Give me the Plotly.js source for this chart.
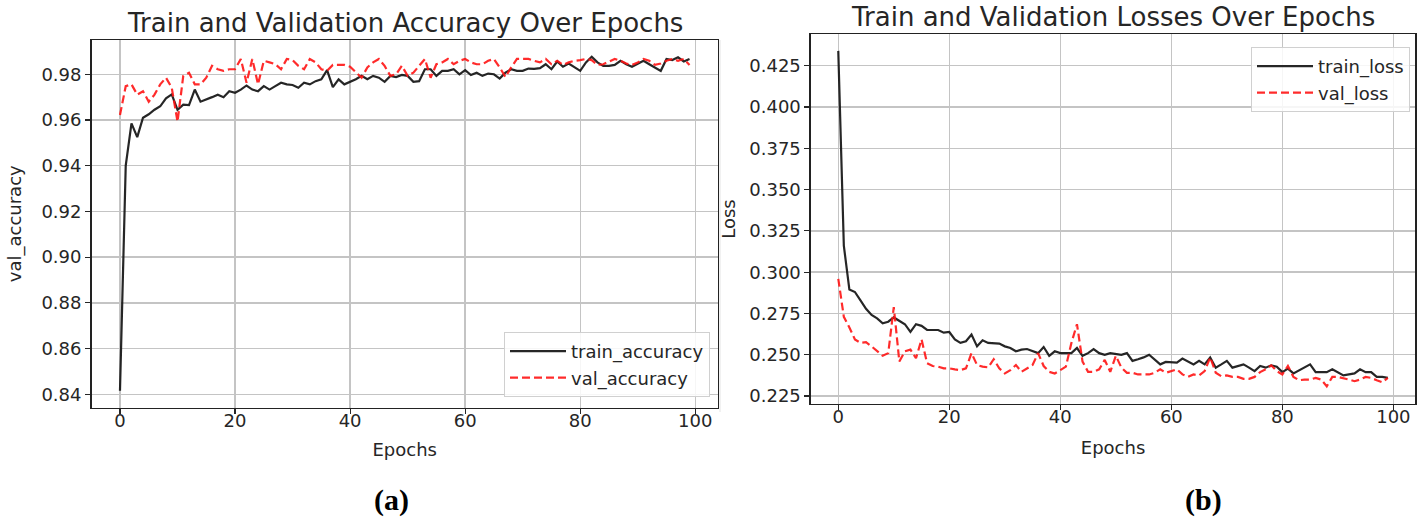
<!DOCTYPE html>
<html>
<head>
<meta charset="utf-8">
<script src="https://cdn.plot.ly/plotly-3.0.1.min.js"></script>
<style>
html,body{margin:0;padding:0;background:#fff;}
#chart{width:1427px;height:518px;}
</style>
</head>
<body>
<div id="chart"></div>
<script>
// ---- data ----
const epochs = Array.from({length: 100}, (_, i) => i);

const trainAccuracy = [
0.8415,0.9400,0.9585,0.9525,0.9610,0.9625,0.9645,0.9660,0.9695,0.9712,
0.9644,0.9667,0.9665,0.9733,0.9680,0.9689,0.9700,0.9711,0.9700,0.9726,
0.9719,0.9733,0.9751,0.9733,0.9726,0.9748,0.9733,0.9748,0.9763,0.9756,
0.9753,0.9741,0.9763,0.9756,0.9770,0.9778,0.9818,0.9744,0.9778,0.9756,
0.9766,0.9778,0.9793,0.9778,0.9793,0.9785,0.9767,0.9793,0.9788,0.9797,
0.9793,0.9767,0.9770,0.9822,0.9822,0.9793,0.9815,0.9815,0.9822,0.9800,
0.9818,0.9797,0.9807,0.9793,0.9803,0.9800,0.9781,0.9807,0.9822,0.9815,
0.9815,0.9825,0.9824,0.9827,0.9844,0.9822,0.9856,0.9833,0.9847,0.9830,
0.9815,0.9852,0.9877,0.9852,0.9837,0.9837,0.9841,0.9859,0.9844,0.9833,
0.9847,0.9859,0.9844,0.9830,0.9815,0.9867,0.9862,0.9874,0.9856,0.9867
];

const valAccuracy = [
0.9622,0.9748,0.9756,0.9711,0.9726,0.9680,0.9711,0.9756,0.9785,0.9741,
0.9593,0.9793,0.9807,0.9756,0.9756,0.9785,0.9837,0.9822,0.9815,0.9822,
0.9822,0.9867,0.9763,0.9867,0.9756,0.9859,0.9852,0.9844,0.9822,0.9867,
0.9862,0.9837,0.9822,0.9867,0.9852,0.9822,0.9815,0.9841,0.9841,0.9841,
0.9833,0.9807,0.9785,0.9830,0.9852,0.9867,0.9837,0.9793,0.9800,0.9837,
0.9793,0.9807,0.9837,0.9867,0.9785,0.9844,0.9852,0.9867,0.9844,0.9859,
0.9867,0.9852,0.9844,0.9844,0.9859,0.9867,0.9830,0.9788,0.9830,0.9867,
0.9867,0.9867,0.9859,0.9852,0.9867,0.9844,0.9859,0.9841,0.9852,0.9859,
0.9862,0.9867,0.9862,0.9841,0.9844,0.9856,0.9867,0.9859,0.9847,0.9841,
0.9852,0.9867,0.9859,0.9841,0.9847,0.9859,0.9867,0.9859,0.9867,0.9841
];

const trainLoss = [
0.4340,0.3160,0.2895,0.2880,0.2830,0.2778,0.2741,0.2720,0.2691,0.2700,
0.2726,0.2706,0.2685,0.2638,0.2685,0.2675,0.2650,0.2650,0.2650,0.2634,
0.2638,0.2593,0.2572,0.2582,0.2623,0.2551,0.2588,0.2572,0.2572,0.2568,
0.2551,0.2541,0.2521,0.2531,0.2535,0.2521,0.2510,0.2547,0.2494,0.2521,
0.2510,0.2510,0.2510,0.2541,0.2494,0.2510,0.2535,0.2510,0.2500,0.2510,
0.2505,0.2500,0.2510,0.2463,0.2473,0.2484,0.2500,0.2469,0.2442,0.2457,
0.2457,0.2453,0.2477,0.2457,0.2442,0.2463,0.2442,0.2484,0.2422,0.2442,
0.2463,0.2422,0.2432,0.2442,0.2422,0.2401,0.2432,0.2422,0.2436,0.2428,
0.2395,0.2416,0.2387,0.2407,0.2422,0.2442,0.2395,0.2395,0.2395,0.2412,
0.2391,0.2375,0.2381,0.2387,0.2412,0.2395,0.2395,0.2366,0.2366,0.2360
];

const valLoss = [
0.2960,0.2730,0.2665,0.2593,0.2572,0.2576,0.2551,0.2521,0.2494,0.2510,
0.2788,0.2459,0.2521,0.2531,0.2479,0.2593,0.2449,0.2432,0.2428,0.2418,
0.2418,0.2412,0.2407,0.2418,0.2510,0.2438,0.2428,0.2424,0.2473,0.2418,
0.2387,0.2407,0.2438,0.2397,0.2418,0.2438,0.2510,0.2432,0.2397,0.2387,
0.2407,0.2428,0.2572,0.2685,0.2459,0.2397,0.2397,0.2412,0.2469,0.2397,
0.2494,0.2422,0.2391,0.2391,0.2381,0.2381,0.2381,0.2391,0.2412,0.2391,
0.2401,0.2412,0.2381,0.2366,0.2381,0.2375,0.2401,0.2484,0.2391,0.2370,
0.2375,0.2366,0.2366,0.2354,0.2354,0.2366,0.2395,0.2412,0.2436,0.2401,
0.2381,0.2432,0.2366,0.2346,0.2350,0.2350,0.2360,0.2350,0.2309,0.2366,
0.2366,0.2360,0.2350,0.2340,0.2350,0.2366,0.2360,0.2346,0.2333,0.2360
];

const xTicks = [0, 20, 40, 60, 80, 100];
const accTicks = [0.84, 0.86, 0.88, 0.90, 0.92, 0.94, 0.96, 0.98];
const lossTicks = [0.225, 0.250, 0.275, 0.300, 0.325, 0.350, 0.375, 0.400, 0.425];

// ---- styling ----
const W = 1427, H = 518;
const FONT = "DejaVu Sans, Liberation Sans, sans-serif";
const TXT = "#262626";
const GRID = "rgb(196,196,196)";
const px = v => v / W;
const py = v => 1 - v / H;

function axisX(domain, anchor, standoff) {
  return {
    domain: domain, anchor: anchor, range: [-4.95, 103.95],
    tickvals: xTicks, ticktext: xTicks.map(String),
    showgrid: true, gridcolor: GRID, gridwidth: 1.4, zeroline: false,
    ticks: "outside", ticklen: 5, tickwidth: 1.2, tickcolor: TXT,
    ticklabelstandoff: -9,
    showline: true, mirror: true, linecolor: "#222", linewidth: 1.4,
    tickfont: {family: FONT, size: 18, color: TXT},
    title: {text: "Epochs", font: {family: FONT, size: 18, color: TXT}, standoff: standoff}
  };
}
function axisY(domain, anchor, range, ticks, fmt, title, standoff) {
  return {
    domain: domain, anchor: anchor, range: range,
    tickvals: ticks, ticktext: ticks.map(v => v.toFixed(fmt)),
    showgrid: true, gridcolor: GRID, gridwidth: 1.4, zeroline: false,
    ticks: "outside", ticklen: 5, tickwidth: 1.2, tickcolor: TXT,
    showline: true, mirror: true, linecolor: "#222", linewidth: 1.4,
    tickfont: {family: FONT, size: 18, color: TXT},
    title: {text: title, font: {family: FONT, size: 18, color: TXT}, standoff: standoff}
  };
}

const blackLine = {color: "rgba(20,20,20,0.92)", width: 2.2};
const redLine = {color: "rgba(255,20,20,0.9)", width: 2.2, dash: "8px,4px"};

const traces = [
  {x: epochs, y: trainAccuracy, type: "scatter", mode: "lines", name: "train_accuracy",
   line: blackLine, xaxis: "x", yaxis: "y", legend: "legend"},
  {x: epochs, y: valAccuracy, type: "scatter", mode: "lines", name: "val_accuracy",
   line: redLine, xaxis: "x", yaxis: "y", legend: "legend"},
  {x: epochs, y: trainLoss, type: "scatter", mode: "lines", name: "train_loss",
   line: blackLine, xaxis: "x2", yaxis: "y2", legend: "legend2"},
  {x: epochs, y: valLoss, type: "scatter", mode: "lines", name: "val_loss",
   line: redLine, xaxis: "x2", yaxis: "y2", legend: "legend2"}
];

const legendStyle = {
  font: {family: FONT, size: 18, color: TXT},
  bgcolor: "rgba(255,255,255,0.85)", bordercolor: "#d0d0d0", borderwidth: 1,
  itemwidth: 56, tracegroupgap: 0
};

const layout = {
  width: W, height: H,
  margin: {l: 0, r: 0, t: 0, b: 0, pad: 0},
  paper_bgcolor: "#fff", plot_bgcolor: "#fff",
  showlegend: true,
  xaxis: axisX([px(91.5), px(718)], "y", 14),
  yaxis: axisY([py(407.5), py(40)], "x", [0.8342, 0.9950], accTicks, 2, "val_accuracy", 15),
  xaxis2: axisX([px(810.8), px(1415.3)], "y2", 15),
  yaxis2: axisY([py(404), py(34)], "x2", [0.2202, 0.4442], lossTicks, 3, "Loss", 9),
  legend: Object.assign({x: px(710), y: py(397), xanchor: "right", yanchor: "bottom"}, legendStyle),
  legend2: Object.assign({x: px(1410), y: py(47), xanchor: "right", yanchor: "top"}, legendStyle),
  annotations: [
    {text: "Train and Validation Accuracy Over Epochs", xref: "paper", yref: "paper",
     x: px(404.5), y: py(23), xanchor: "center", yanchor: "middle", showarrow: false,
     font: {family: FONT, size: 26, color: TXT}},
    {text: "Train and Validation Losses Over Epochs", xref: "paper", yref: "paper",
     x: px(1113), y: py(17), xanchor: "center", yanchor: "middle", showarrow: false,
     font: {family: FONT, size: 26, color: TXT}},
    {text: "<b>(a)</b>", xref: "paper", yref: "paper",
     x: px(391), y: py(500), xanchor: "center", yanchor: "middle", showarrow: false,
     font: {family: "Liberation Serif, DejaVu Serif, serif", size: 30, color: "#000"}},
    {text: "<b>(b)</b>", xref: "paper", yref: "paper",
     x: px(1203), y: py(500), xanchor: "center", yanchor: "middle", showarrow: false,
     font: {family: "Liberation Serif, DejaVu Serif, serif", size: 30, color: "#000"}}
  ],
  shapes: [
    {type: "line", xref: "paper", yref: "paper", x0: px(720), x1: px(720), y0: py(40), y1: py(412),
     line: {color: "#e4e4e4", width: 1}}
  ]
};

Plotly.newPlot("chart", traces, layout, {displayModeBar: false, staticPlot: true});
</script>
</body>
</html>
